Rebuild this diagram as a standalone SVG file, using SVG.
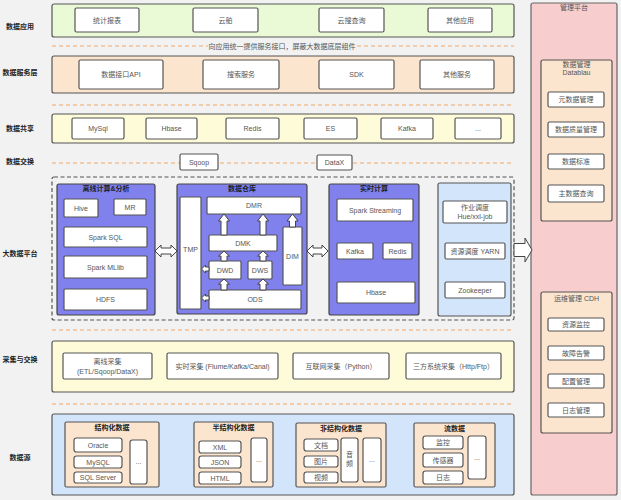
<svg xmlns="http://www.w3.org/2000/svg" width="621" height="500" viewBox="0 0 621 500">
<style>
text{font-family:"Liberation Sans","Noto Sans CJK SC",sans-serif;text-anchor:middle}
.lbl{font-size:7px;fill:#222;font-weight:bold}
.t{font-size:7px;fill:#555}
.tt{font-size:7px;fill:#222;font-weight:bold}
.box{fill:#fff;stroke:#555;stroke-width:1.2}
.band{stroke:#555;stroke-width:1.2}
.dash{stroke:#f0a868;stroke-width:1;stroke-dasharray:4 3;fill:none}
.purple{fill:#8081ec;stroke:#444;stroke-width:1.2}
.peach{fill:#fce5cf;stroke:#555;stroke-width:1.2}
.blue{fill:#d3e5fa;stroke:#555;stroke-width:1.2}
.harrow{fill:#fff;stroke:#444;stroke-width:1}
</style>
<rect width="621" height="500" fill="#f2f2f2"/>

<g id="labels">
<text class="lbl" x="20" y="28.5">数据应用</text>
<text class="lbl" x="20" y="75">数据服务层</text>
<text class="lbl" x="20" y="131">数据共享</text>
<text class="lbl" x="20" y="164">数据交换</text>
<text class="lbl" x="20" y="256">大数据平台</text>
<text class="lbl" x="20" y="362">采集与交换</text>
<text class="lbl" x="20" y="460">数据源</text>
</g>

<g id="layer-app">
<rect class="band" x="52" y="4" width="462" height="33" rx="2" fill="#eafad7"/>
<rect class="box" x="75" y="8" width="64" height="24" rx="1.5"/><text class="t" x="107" y="22.5">统计报表</text>
<rect class="box" x="193" y="8" width="65" height="24" rx="1.5"/><text class="t" x="225.5" y="22.5">云舶</text>
<rect class="box" x="319" y="8" width="65" height="24" rx="1.5"/><text class="t" x="351.5" y="22.5">云搜查询</text>
<rect class="box" x="428" y="8" width="64" height="24" rx="1.5"/><text class="t" x="460" y="22.5">其他应用</text>
</g>

<g id="note-1">
<line class="dash" x1="52" y1="46" x2="208" y2="46"/>
<text class="t" x="282" y="48.5">向应用统一提供服务接口，屏蔽大数据底层组件</text>
<line class="dash" x1="357" y1="46" x2="514" y2="46"/>
</g>

<g id="layer-service">
<rect class="band" x="52" y="56" width="462" height="37" rx="2" fill="#fce5cf"/>
<rect class="box" x="79" y="60" width="84" height="29" rx="1.5"/><text class="t" x="121" y="77">数据接口API</text>
<rect class="box" x="203" y="60" width="76" height="29" rx="1.5"/><text class="t" x="241" y="77">搜索服务</text>
<rect class="box" x="319" y="60" width="75" height="29" rx="1.5"/><text class="t" x="356.5" y="77">SDK</text>
<rect class="box" x="420" y="60" width="74" height="29" rx="1.5"/><text class="t" x="457" y="77">其他服务</text>
</g>

<line class="dash" x1="52" y1="105" x2="514" y2="105"/>

<g id="layer-share">
<rect class="band" x="52" y="114" width="462" height="29" rx="2" fill="#fefbd9"/>
<rect class="box" x="72" y="118" width="52" height="21" rx="1.5"/><text class="t" x="98" y="131">MySql</text>
<rect class="box" x="146" y="118" width="51" height="21" rx="1.5"/><text class="t" x="171.5" y="131">Hbase</text>
<rect class="box" x="226" y="118" width="53" height="21" rx="1.5"/><text class="t" x="252.5" y="131">Redis</text>
<rect class="box" x="304" y="118" width="53" height="21" rx="1.5"/><text class="t" x="330.5" y="131">ES</text>
<rect class="box" x="381" y="118" width="52" height="21" rx="1.5"/><text class="t" x="407" y="131">Kafka</text>
<rect class="box" x="455" y="118" width="46" height="21" rx="1.5"/><text class="t" x="478" y="131">...</text>
</g>

<g id="layer-exchange">
<line class="dash" x1="52" y1="163" x2="514" y2="163"/>
<rect class="box" x="180" y="154" width="38" height="16" rx="1.5"/><text class="t" x="199" y="164.5">Sqoop</text>
<rect class="box" x="317" y="155" width="35" height="15" rx="1.5"/><text class="t" x="334.5" y="165">DataX</text>
</g>

<g id="bigdata-platform">
<rect x="52" y="177" width="462" height="143" rx="2" fill="none" stroke="#555" stroke-width="1.2" stroke-dasharray="4 2.5"/>
</g>

<g id="offline">
<rect class="purple" x="57" y="184" width="98" height="131" rx="2"/>
<text class="tt" x="106" y="190.5">离线计算&amp;分析</text>
<rect class="box" x="64" y="199" width="34" height="18" rx="1"/><text class="t" x="81" y="210.5">Hive</text>
<rect class="box" x="114" y="199" width="32" height="16" rx="1"/><text class="t" x="130" y="209.5">MR</text>
<rect class="box" x="64" y="227" width="83" height="20" rx="1"/><text class="t" x="105.5" y="239.5">Spark SQL</text>
<rect class="box" x="64" y="256" width="83" height="22" rx="1"/><text class="t" x="105.5" y="269.5">Spark MLlib</text>
<rect class="box" x="64" y="289" width="83" height="21" rx="1"/><text class="t" x="105.5" y="302">HDFS</text>
</g>

<g id="warehouse">
<rect class="purple" x="177" y="184" width="130" height="130" rx="2"/>
<text class="tt" x="242" y="190.5">数据仓库</text>
<rect class="box" x="180" y="197" width="21" height="112" rx="1"/><text class="t" x="190.5" y="252">TMP</text>
<rect class="box" x="207" y="197" width="94" height="17" rx="1"/><text class="t" x="254" y="208">DMR</text>
<rect class="box" x="209" y="235" width="68" height="16" rx="1"/><text class="t" x="243" y="245.5">DMK</text>
<rect class="box" x="283" y="227" width="19" height="58" rx="1"/><text class="t" x="292.5" y="258.5">DIM</text>
<rect class="box" x="209" y="261" width="32" height="18" rx="1"/><text class="t" x="225" y="272.5">DWD</text>
<rect class="box" x="248" y="261" width="24" height="18" rx="1"/><text class="t" x="260" y="272.5">DWS</text>
<rect class="box" x="209" y="290" width="92" height="19" rx="1"/><text class="t" x="255" y="302">ODS</text>
</g>

<g id="realtime">
<rect class="purple" x="329" y="184" width="90" height="131" rx="2"/>
<text class="tt" x="374" y="190.5">实时计算</text>
<rect class="box" x="337" y="199" width="76" height="22" rx="1"/><text class="t" x="375" y="212.5">Spark Streaming</text>
<rect class="box" x="337" y="243" width="36" height="16" rx="1"/><text class="t" x="355" y="253.5">Kafka</text>
<rect class="box" x="383" y="243" width="29" height="16" rx="1"/><text class="t" x="397.5" y="253.5">Redis</text>
<rect class="box" x="337" y="282" width="78" height="21" rx="1"/><text class="t" x="376" y="295">Hbase</text>
</g>

<g id="scheduler">
<rect class="blue" x="438" y="183" width="73" height="133" rx="2"/>
<rect class="box" x="443" y="201" width="64" height="22" rx="1.5"/>
<text class="t" x="475" y="210">作业调度</text><text class="t" x="475" y="219">Hue/xxl-job</text>
<rect class="box" x="445" y="243" width="60" height="16" rx="1.5"/><text class="t" x="475" y="253.5">资源调度 YARN</text>
<rect class="box" x="445" y="282" width="60" height="16" rx="1.5"/><text class="t" x="475" y="292.5">Zookeeper</text>
</g>

<g id="mgmt-platform">
<rect x="531" y="3" width="86" height="492" rx="2" fill="#f8cdcd" stroke="#666" stroke-width="1.2"/>
<text class="t" x="574" y="10">管理平台</text>
</g>

<g id="data-mgmt">
<rect class="peach" x="541" y="60" width="71" height="161" rx="2"/>
<text class="t" x="576.5" y="66.5">数据管理</text>
<text class="t" x="576.5" y="75">Datablau</text>
<rect class="box" x="548" y="92" width="56" height="15" rx="1.5"/><text class="t" x="576" y="102">元数据管理</text>
<rect class="box" x="548" y="122" width="56" height="15" rx="1.5"/><text class="t" x="576" y="132">数据质量管理</text>
<rect class="box" x="548" y="154" width="56" height="15" rx="1.5"/><text class="t" x="576" y="164">数据标准</text>
<rect class="box" x="548" y="185" width="56" height="17" rx="1.5"/><text class="t" x="576" y="196">主数据查询</text>
</g>

<g id="ops-mgmt">
<rect class="peach" x="541" y="292" width="71" height="141" rx="2"/>
<text class="t" x="576.5" y="300.5">运维管理 CDH</text>
<rect class="box" x="548" y="318" width="56" height="13" rx="1.5"/><text class="t" x="576" y="327">资源监控</text>
<rect class="box" x="548" y="346" width="56" height="14" rx="1.5"/><text class="t" x="576" y="355.5">故障告警</text>
<rect class="box" x="548" y="374" width="56" height="14" rx="1.5"/><text class="t" x="576" y="383.5">配置管理</text>
<rect class="box" x="548" y="403" width="56" height="14" rx="1.5"/><text class="t" x="576" y="412.5">日志管理</text>
</g>

<line class="dash" x1="52" y1="330" x2="514" y2="330"/>

<g id="layer-collect">
<rect class="band" x="52" y="341" width="462" height="51" rx="2" fill="#fefbd9"/>
<rect class="box" x="63" y="353" width="89" height="26" rx="1.5"/>
<text class="t" x="107.5" y="364">离线采集</text><text class="t" x="107.5" y="373.5">(ETL/Sqoop/DataX)</text>
<rect class="box" x="167" y="353" width="111" height="26" rx="1.5"/><text class="t" x="222.5" y="368.5">实时采集 (Flume/Kafka/Canal)</text>
<rect class="box" x="293" y="353" width="96" height="26" rx="1.5"/><text class="t" x="341" y="368.5">互联网采集（Python）</text>
<rect class="box" x="406" y="353" width="95" height="26" rx="1.5"/><text class="t" x="453.5" y="368.5">三方系统采集（Http/Ftp）</text>
</g>

<line class="dash" x1="52" y1="404" x2="514" y2="404"/>

<g id="layer-source">
<rect class="band" x="52" y="414" width="462" height="81" rx="2" fill="#d3e5fa"/>
</g>

<g id="structured">
<rect class="peach" x="65" y="422" width="94" height="65" rx="1.5"/>
<text class="tt" x="112" y="430">结构化数据</text>
<rect class="box" x="74" y="438" width="48" height="14" rx="2.5"/><text class="t" x="98" y="447.5">Oracle</text>
<rect class="box" x="74" y="456" width="48" height="12" rx="2.5"/><text class="t" x="98" y="464.5">MySQL</text>
<rect class="box" x="74" y="472" width="48" height="11" rx="2.5"/><text class="t" x="98" y="480">SQL Server</text>
<rect class="box" x="130" y="440" width="17" height="44" rx="2.5"/><text class="t" x="138.5" y="464">...</text>
</g>

<g id="semi-structured">
<rect class="peach" x="194" y="422" width="79" height="65" rx="1.5"/>
<text class="tt" x="233.5" y="430">半结构化数据</text>
<rect class="box" x="199" y="441" width="42" height="12" rx="2.5"/><text class="t" x="220" y="449.5">XML</text>
<rect class="box" x="199" y="456" width="42" height="12" rx="2.5"/><text class="t" x="220" y="464.5">JSON</text>
<rect class="box" x="199" y="472" width="42" height="12" rx="2.5"/><text class="t" x="220" y="480.5">HTML</text>
<rect class="box" x="251" y="438" width="16" height="44" rx="2.5"/><text class="t" x="259" y="462">...</text>
</g>

<g id="unstructured">
<rect class="peach" x="296" y="423" width="90" height="64" rx="1.5"/>
<text class="tt" x="341" y="430.5">非结构化数据</text>
<rect class="box" x="304" y="439" width="34" height="12" rx="2.5"/><text class="t" x="321" y="447.5">文档</text>
<rect class="box" x="304" y="456" width="34" height="11" rx="2.5"/><text class="t" x="321" y="464">图片</text>
<rect class="box" x="304" y="472" width="34" height="11" rx="2.5"/><text class="t" x="321" y="480">视频</text>
<rect class="box" x="341" y="438" width="17" height="44" rx="2.5"/><text class="t" x="349.5" y="457">音</text><text class="t" x="349.5" y="466">频</text>
<rect class="box" x="363" y="438" width="18" height="44" rx="2.5"/><text class="t" x="372" y="462">...</text>
</g>

<g id="stream">
<rect class="peach" x="414" y="423" width="81" height="64" rx="1.5"/>
<text class="tt" x="454.5" y="430.5">流数据</text>
<rect class="box" x="423" y="436" width="40" height="13" rx="2.5"/><text class="t" x="443" y="445">监控</text>
<rect class="box" x="423" y="453" width="40" height="14" rx="2.5"/><text class="t" x="443" y="462.5">传感器</text>
<rect class="box" x="423" y="471" width="40" height="13" rx="2.5"/><text class="t" x="443" y="480">日志</text>
<rect class="box" x="468" y="436" width="18" height="43" rx="2.5"/><text class="t" x="477" y="460">...</text>
</g>

<g id="connectors">
<path class="harrow" d="M155,251 L161,245 L161,248 L171,248 L171,245 L177,251 L171,257 L171,254 L161,254 L161,257 Z"/>
<path class="harrow" d="M307,251 L313,245 L313,248 L322,248 L322,245 L328,251 L322,257 L322,254 L313,254 L313,257 Z"/>
<path class="harrow" d="M514,243.5 L525,243.5 L525,238 L532,250 L525,262 L525,256.5 L514,256.5 Z"/>
<path class="harrow" d="M224,214 L229.5,221 L227,221 L227,235 L221,235 L221,221 L218.5,221 Z"/>
<path class="harrow" d="M263,214 L268.5,221 L266,221 L266,235 L260,235 L260,221 L257.5,221 Z"/>
<path class="harrow" d="M292.5,214 L298,221 L295.5,221 L295.5,227 L289.5,227 L289.5,221 L287,221 Z"/>
<path class="harrow" d="M224,251 L229.5,256 L227,256 L227,261 L221,261 L221,256 L218.5,256 Z"/>
<path class="harrow" d="M263,251 L268.5,256 L266,256 L266,261 L260,261 L260,256 L257.5,256 Z"/>
<path class="harrow" d="M224,279 L229.5,284 L227,284 L227,290 L221,290 L221,284 L218.5,284 Z"/>
<path class="harrow" d="M263,279 L268.5,284 L266,284 L266,290 L260,290 L260,284 L257.5,284 Z"/>
<path class="harrow" d="M201.5,269 L205.5,265 L205.5,267 L209,267 L209,271 L205.5,271 L205.5,273 Z"/>
<path class="harrow" d="M201.5,298 L205.5,294 L205.5,296 L209,296 L209,300 L205.5,300 L205.5,302 Z"/>
</g>
</svg>
